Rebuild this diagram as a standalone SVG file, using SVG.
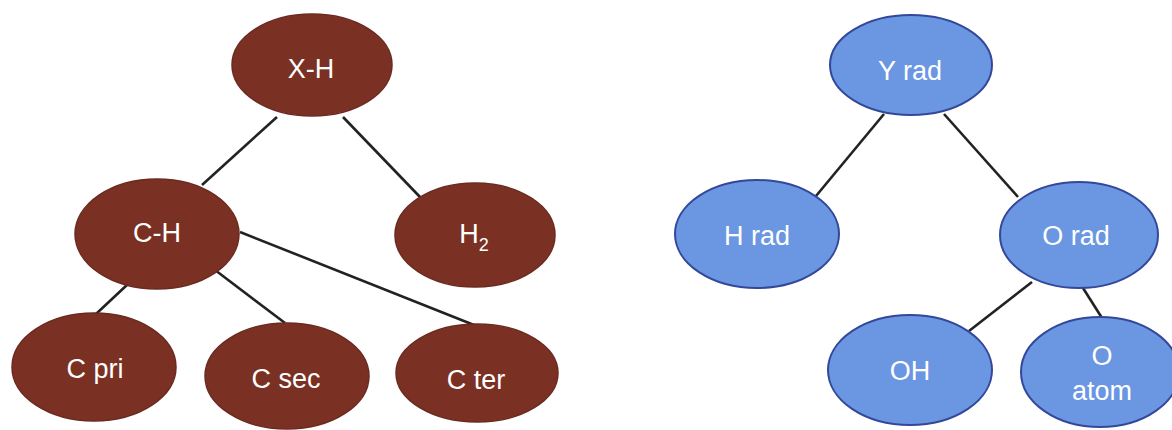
<svg xmlns="http://www.w3.org/2000/svg" width="1172" height="430" viewBox="0 0 1172 430">
<style>
.b{fill:#7b3024;stroke:#6a2a20;stroke-width:1.5}
.u{fill:#6a96e2;stroke:#34489a;stroke-width:2}
text{font-family:"Liberation Sans",Arial,sans-serif;font-size:27px;fill:#ffffff;text-anchor:middle}
.e{stroke:#222;stroke-width:2.6;fill:none}
</style>
<rect width="1172" height="430" fill="#fff"/>
<g id="connectors">
<line class="e" x1="277" y1="117" x2="202" y2="185"/>
<line class="e" x1="343" y1="117" x2="420" y2="197"/>
<line class="e" x1="128" y1="284" x2="96" y2="314"/>
<line class="e" x1="215" y1="270" x2="285" y2="323"/>
<line class="e" x1="240" y1="232" x2="474" y2="325"/>
<line class="e" x1="884" y1="114" x2="816" y2="196"/>
<line class="e" x1="944" y1="114" x2="1018" y2="197"/>
<line class="e" x1="1032" y1="282" x2="969" y2="331"/>
<line class="e" x1="1083" y1="288" x2="1102" y2="318"/>
</g>
<g id="xh"><ellipse class="b" cx="312" cy="65" rx="80" ry="51"/><text x="311" y="78">X-H</text></g>
<g id="ch"><ellipse class="b" cx="157" cy="234" rx="82" ry="55"/><text x="157" y="242">C-H</text></g>
<g id="h2"><ellipse class="b" cx="475" cy="235" rx="80" ry="52"/><text x="474" y="243">H<tspan font-size="18" dy="8">2</tspan></text></g>
<g id="cpri"><ellipse class="b" cx="94" cy="367" rx="82" ry="54"/><text x="95" y="378">C pri</text></g>
<g id="csec"><ellipse class="b" cx="287" cy="376" rx="82" ry="53"/><text x="286" y="388">C sec</text></g>
<g id="cter"><ellipse class="b" cx="477" cy="373" rx="81" ry="49"/><text x="476" y="389">C ter</text></g>
<g id="yrad"><ellipse class="u" cx="911" cy="65" rx="81" ry="50"/><text x="910" y="80">Y rad</text></g>
<g id="hrad"><ellipse class="u" cx="757" cy="234" rx="82" ry="54"/><text x="757" y="245">H rad</text></g>
<g id="orad"><ellipse class="u" cx="1079" cy="235" rx="79" ry="53"/><text x="1076" y="245">O rad</text></g>
<g id="oh"><ellipse class="u" cx="910" cy="370" rx="82" ry="55"/><text x="910" y="380">OH</text></g>
<g id="oatom"><ellipse class="u" cx="1100" cy="372" rx="79" ry="55"/><text x="1102" y="365">O</text><text x="1102" y="400">atom</text></g>
</svg>
